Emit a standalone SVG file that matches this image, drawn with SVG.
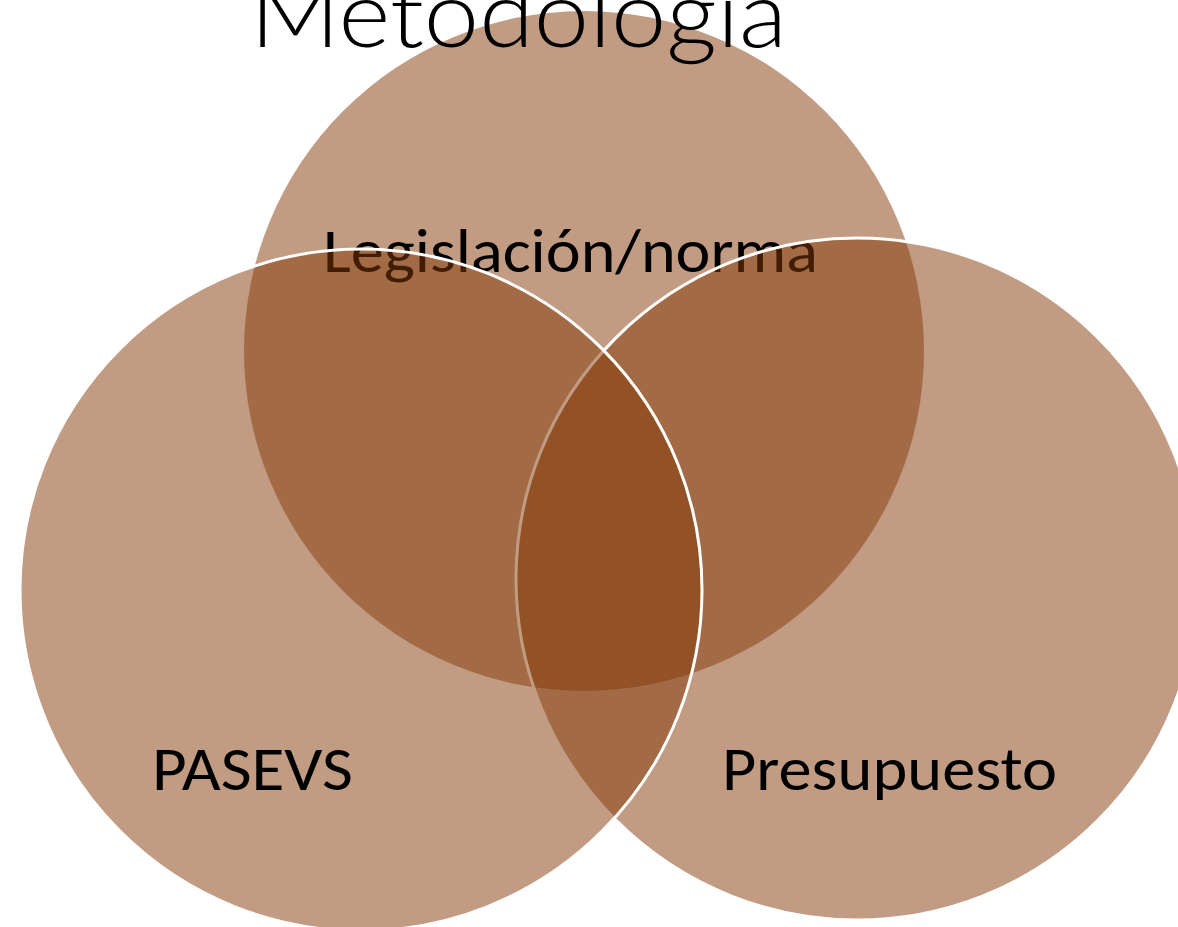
<svg xmlns="http://www.w3.org/2000/svg" width="1178" height="927" viewBox="0 0 1178 927">
  <style>
    .c { fill: #843A08; fill-opacity: 0.5; }
    .s { stroke: #FFFFFF; stroke-width: 3; }
    .t { font-family: Carlito, "Open Sans", "Liberation Sans", sans-serif; fill: #000000; }
    .title { font-family: Lato, Carlito, "Open Sans", sans-serif; font-weight: 300; fill: #000000; }
  </style>
  <rect width="1178" height="927" fill="#FFFFFF"/>
  <g id="node-legislacion">
    <circle class="c" cx="584" cy="351" r="340"/>
    <text class="t" x="323" y="272" font-size="62" textLength="495" lengthAdjust="spacingAndGlyphs">Legislación/norma</text>
  </g>
  <g id="node-presupuesto-circle">
    <circle class="c s" cx="857" cy="579" r="341"/>
  </g>
  <g id="node-pasevs">
    <circle class="c s" cx="361" cy="590" r="341"/>
    <text class="t" x="152" y="790" font-size="62" textLength="201" lengthAdjust="spacingAndGlyphs">PASEVS</text>
  </g>
  <g id="node-presupuesto">
    <text class="t" x="722" y="790" font-size="62" textLength="335" lengthAdjust="spacingAndGlyphs">Presupuesto</text>
  </g>
  <g id="connectors"></g>
  <g id="title">
    <text class="title" x="250" y="47" font-size="92" textLength="537" lengthAdjust="spacingAndGlyphs">Metodología</text>
  </g>
</svg>
